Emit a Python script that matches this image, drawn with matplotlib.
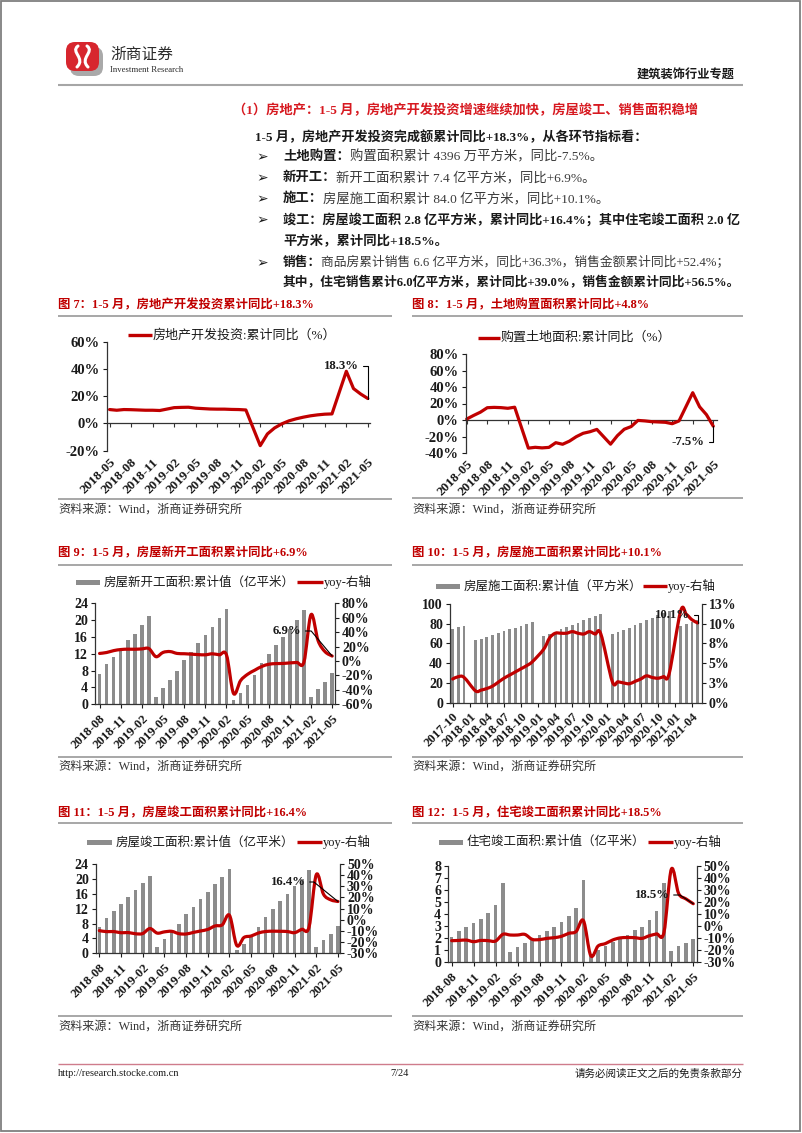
import numpy as np
import pandas as pd
import matplotlib
matplotlib.use('Agg')
import matplotlib.pyplot as plt
from matplotlib.patches import Rectangle, FancyBboxPatch, PathPatch
from matplotlib.path import Path

W, H = 802, 1133
FONTS = ['Liberation Serif', 'Noto Sans CJK SC', 'DejaVu Sans']
plt.rcParams['font.family'] = FONTS
plt.rcParams['axes.unicode_minus'] = False

RED = '#c00000'
HEAD_RED = '#d71920'
BAR_GRAY = '#8c8c8c'
RULE = '#8f8f8f'
INK = '#1a1a1a'


def months(start, end):
    # monthly labels, January skipped (Jan-Feb are reported together)
    return [str(p) for p in pd.period_range(start, end, freq='M') if p.month != 1]


# ---------------- data ----------------
# fig 7: real estate investment, cumulative yoy (%)
inv_months = months('2018-05', '2021-05')
inv_yoy = [10.2, 9.7, 10.2, 10.1, 9.9, 9.7, 9.7, 9.5,
           11.6, 11.8, 11.9, 11.2, 10.9, 10.6, 10.5, 10.5, 10.3, 10.2, 9.9,
           -16.3, -7.7, -3.3, -0.3, 1.9, 3.4, 4.6, 5.6, 6.3, 6.8, 7.0,
           38.3, 25.6, 21.6, 18.3]
inv_ticks = ['2018-05', '2018-08', '2018-11', '2019-02', '2019-05', '2019-08', '2019-11',
             '2020-02', '2020-05', '2020-08', '2020-11', '2021-02', '2021-05']
inv_pct = [-20, 0, 20, 40, 60]

# fig 8: land purchase area, cumulative yoy (%)
land_months = months('2018-05', '2021-05')
land_yoy = [1.2, 5.5, 9.5, 14.9, 15.3, 15.0, 14.2, 15.5,
            -34.1, -33.1, -33.8, -33.2, -27.5, -29.4, -25.6, -20.2, -16.1, -14.2, -11.4,
            -29.3, -19.0, -11.2, -8.0, -0.5, -1.1, -2.0, -2.4, -2.8, -4.5, -1.1,
            33.1, 16.0, 6.5, -7.5]
land_ticks = inv_ticks
land_pct = [-40, -20, 0, 20, 40, 60, 80]

# shared tick labels for the 34-bar charts (every 3rd bar)
bar_ticks = ['2018-08', '2018-11', '2019-02', '2019-05', '2019-08', '2019-11',
             '2020-02', '2020-05', '2020-08', '2020-11', '2021-02', '2021-05']

# fig 9: new starts, cumulative (亿平米) + yoy (%)
new_area = [7.1, 9.5, 11.3, 13.2, 15.2, 16.8, 18.8, 20.9,
            1.8, 3.9, 5.8, 7.9, 10.5, 12.5, 14.5, 16.5, 18.4, 20.5, 22.7,
            1.0, 2.8, 4.7, 7.0, 9.7, 11.9, 14.0, 16.0, 18.0, 20.1, 22.4,
            1.7, 3.6, 5.3, 7.4]
new_yoy = [10.5, 11.8, 14.4, 15.9, 16.4, 16.3, 16.8, 17.2,
           6.0, 11.9, 13.1, 10.5, 10.1, 9.5, 8.9, 8.6, 10.0, 8.6, 8.5,
           -44.9, -27.2, -18.4, -12.8, -7.6, -4.5, -3.6, -3.4, -2.6, -2.0, -1.2,
           64.3, 28.2, 12.8, 6.9]
new_left = [0, 4, 8, 12, 16, 20, 24]
new_right = [-60, -40, -20, 0, 20, 40, 60, 80]

# fig 10: under construction, cumulative + yoy (%)
build_months = months('2017-10', '2021-05')
build_area = [75.0, 76.5, 78.1,
              63.2, 64.6, 66.2, 68.3, 70.6, 72.5, 74.2, 76.1, 78.2, 80.1, 82.2,
              67.2, 69.1, 71.3, 74.2, 76.9, 79.1, 81.2, 83.3, 85.4, 87.5, 89.4,
              69.6, 71.4, 73.4, 75.8, 78.5, 81.1, 83.5, 86.1, 88.5, 90.7, 92.7,
              77.3, 79.9, 82.2, 84.0]
build_yoy = [3.0, 3.3, 3.2,
             1.5, 1.6, 1.8, 2.1, 2.6, 3.1, 3.5, 3.9, 4.3, 4.7, 5.2,
             6.8, 8.2, 8.8, 8.8, 8.8, 9.0, 8.8, 8.7, 9.0, 8.7, 8.7,
             2.7, 2.65, 2.5, 2.4, 2.7, 3.0, 3.4, 3.2, 3.1, 3.3, 3.7,
             11.6, 11.2, 10.5, 10.1]
build_ticks = ['2017-10', '2018-01', '2018-04', '2018-07', '2018-10', '2019-01', '2019-04',
               '2019-07', '2019-10', '2020-01', '2020-04', '2020-07', '2020-10', '2021-01', '2021-04']
build_left = [0, 20, 40, 60, 80, 100]
build_right = [0, 2.5, 5, 7.5, 10, 12.5]
build_right_lbl = ['0%', '3%', '5%', '8%', '10%', '13%']

# fig 11: completions, cumulative + yoy (%)
done_area = [7.1, 9.5, 11.4, 13.2, 15.2, 16.9, 18.9, 20.9,
             1.8, 3.8, 5.7, 7.9, 10.5, 12.5, 14.5, 16.5, 18.5, 20.5, 22.7,
             1.0, 2.6, 4.7, 7.0, 9.7, 12.0, 14.0, 16.0, 18.0, 20.0, 22.4,
             1.7, 3.6, 5.3, 7.4]
done_yoy = [-9.7, -10.6, -10.5, -11.6, -11.4, -12.5, -12.3, -7.8,
            -11.9, -10.8, -10.3, -12.4, -12.7, -11.3, -10.0, -8.6, -5.5, -4.5, 4.0,
            -22.9, -15.8, -14.5, -11.8, -10.5, -10.2, -10.3, -10.5, -11.5, -8.5, -6.5,
            40.4, 22.9, 17.9, 16.4]
done_left = [0, 4, 8, 12, 16, 20, 24]
done_right = [-30, -20, -10, 0, 10, 20, 30, 40, 50]

# fig 12: residential completions, cumulative + yoy (%)
home_area = [2.1, 2.6, 2.95, 3.25, 3.6, 4.1, 4.75, 6.6,
             0.85, 1.3, 1.6, 1.95, 2.3, 2.6, 2.95, 3.3, 3.85, 4.5, 6.8,
             0.6, 1.05, 1.35, 1.65, 1.95, 2.3, 2.65, 2.95, 3.5, 4.25, 6.6,
             0.95, 1.35, 1.6, 1.95]
home_yoy = [-12.1, -11.9, -11.6, -12.9, -11.9, -12.1, -12.4, -6.8,
            -7.4, -7.4, -6.9, -11.0, -11.2, -10.2, -9.6, -8.5, -6.0, -4.5, 4.5,
            -24.5, -16.5, -14.5, -11.5, -9.8, -9.5, -9.6, -10.2, -8.0, -6.5, -5.2,
            47.0, 27.0, 22.5, 18.5]
home_left = [0, 1, 2, 3, 4, 5, 6, 7, 8]
home_right = [-30, -20, -10, 0, 10, 20, 30, 40, 50]

titles = ['图 7：1-5 月，房地产开发投资累计同比+18.3%',
          '图 8：1-5 月，土地购置面积累计同比+4.8%',
          '图 9：1-5 月，房屋新开工面积累计同比+6.9%',
          '图 10：1-5 月，房屋施工面积累计同比+10.1%',
          '图 11：1-5 月，房屋竣工面积累计同比+16.4%',
          '图 12：1-5 月，住宅竣工面积累计同比+18.5%']
source = '资料来源：Wind，浙商证券研究所'


# ---------------- helpers ----------------
def month_pos(labels, start):
    p0 = pd.Period(start, freq='M')
    return np.array([(pd.Period(m, freq='M') - p0).n for m in labels])


def smooth_path(x, y):
    # Catmull-Rom through the points, like a smoothed office-chart line
    pts = np.column_stack([x, y]).astype(float)
    n = len(pts)
    verts, codes = [pts[0]], [Path.MOVETO]
    for i in range(n - 1):
        p0 = pts[i - 1] if i > 0 else pts[i]
        p1, p2 = pts[i], pts[i + 1]
        p3 = pts[i + 2] if i + 2 < n else pts[i + 1]
        verts += [p1 + (p2 - p0) / 6, p2 - (p3 - p1) / 6, p2]
        codes += [Path.CURVE4] * 3
    return Path(verts, codes)


fig = plt.figure(figsize=(W / 100, H / 100), dpi=100)
page = fig.add_axes([0, 0, 1, 1])
page.set_xlim(0, W)
page.set_ylim(H, 0)
page.axis('off')
renderer = fig.canvas.get_renderer()


def make_axes(x0, ytop, x1, ybot):
    ax = fig.add_axes([x0 / W, 1 - ybot / H, (x1 - x0) / W, (ybot - ytop) / H])
    ax.set_facecolor('none')
    return ax


def hline(x0, x1, y, color=RULE, lw=1.0):
    page.plot([x0, x1], [y, y], color=color, lw=lw, solid_capstyle='butt')


def runs(x, y, parts, size, right=None):
    # draw text pieces one after another; squeeze the line to end at `right`
    x0 = x
    drawn = []
    for txt, bold, color in parts:
        t = page.text(x, y, txt, fontsize=size, fontweight='bold' if bold else 'normal',
                      color=color, va='center', ha='left')
        drawn.append(t)
        x += t.get_window_extent(renderer).width
    if right is not None and abs(x - right) > 1:
        for t in drawn:
            t.remove()
        return runs(x0, y, parts, size * (right - x0) / (x - x0))
    return x


def frame(x0, x1, ytitle, yrule, title, ysrc_rule, ysrc):
    page.text(x0, ytitle, title, fontsize=8.9, fontweight='bold', color=RED, va='center')
    hline(x0, x1, yrule, lw=1.1)
    hline(x0, x1, ysrc_rule, lw=1.1)
    page.text(x0, ysrc, source, fontsize=8.7, color='#333333', va='center')


def legend_line(x0, x1, y, label, size=9.4):
    page.plot([x0, x1], [y, y], color=RED, lw=2.4, solid_capstyle='butt')
    page.text(x1 + 1, y, label, fontsize=size, color=INK, va='center')


def legend_bar(x0, x1, y, label):
    page.add_patch(Rectangle((x0, y - 2.5), x1 - x0, 5, color=BAR_GRAY, lw=0))
    page.text(x1 + 4, y, label, fontsize=9, color=INK, va='center')


def pct(vals):
    return [f'{v:g}%' for v in vals]


def style_left(ax, ticks, labels, size):
    for s in ['top', 'right']:
        ax.spines[s].set_visible(False)
    ax.spines['left'].set_color('#333333')
    ax.spines['left'].set_linewidth(0.9)
    ax.set_ylim(ticks[0], ticks[-1])
    ax.set_yticks(ticks, labels=labels, fontsize=size, fontweight='bold')
    ax.tick_params(axis='y', length=3, width=0.8, pad=2, colors=INK)


def note(ax, text, xy, txt_px, angle_b):
    ax.annotate(text, xy=xy, xytext=(txt_px[0], H - txt_px[1]), textcoords='figure pixels',
                ha='center', va='center', fontsize=9.2, fontweight='bold', color=INK,
                annotation_clip=False,
                arrowprops=dict(arrowstyle='-', color='black', lw=0.8, relpos=(1, 0.5),
                                shrinkA=1, shrinkB=0,
                                connectionstyle=f'angle,angleA=0,angleB={angle_b},rad=0'))


def line_chart(box, x, y, xlim, ticks, tick_labels, zero_frac, note_args):
    ax = make_axes(*box)
    style_left(ax, ticks, pct(ticks), 10.5)
    ax.spines['bottom'].set_visible(False)
    ax.plot(x, y, color=RED, lw=2.3, solid_joinstyle='round', solid_capstyle='round', clip_on=False)
    ax.set_xlim(*xlim)
    ax.set_xticks(tick_labels[0], labels=tick_labels[1], rotation=45, ha='right',
                  rotation_mode='anchor', fontsize=9.6, fontweight='bold')
    ax.tick_params(axis='x', length=0, pad=4, colors=INK)
    zero = ax.secondary_xaxis(zero_frac)
    zero.set_xticks(tick_labels[0], labels=[])
    zero.tick_params(length=3, width=0.8, colors='#333333')
    zero.spines['bottom'].set_color('#333333')
    zero.spines['bottom'].set_linewidth(0.9)
    note(ax, *note_args)
    return ax


def bar_line_chart(box, x, bars, yoy, xlim, bar_w, left, right, right_lbl, tick_pos, tick_lbl, note_args):
    ax = make_axes(*box)
    style_left(ax, left, [f'{v:g}' for v in left], 10)
    ax.spines['bottom'].set_color('#333333')
    ax.spines['bottom'].set_linewidth(0.9)
    ax.bar(x, bars, width=bar_w, color=BAR_GRAY, lw=0)
    ax.set_xlim(*xlim)
    ax.set_xticks(tick_pos, labels=tick_lbl, rotation=45, ha='right',
                  rotation_mode='anchor', fontsize=9.2, fontweight='bold')
    ax.tick_params(axis='x', length=3, width=0.8, pad=3, colors=INK)
    ax2 = ax.twinx()
    ax2.set_facecolor('none')
    for s in ['top', 'left', 'bottom']:
        ax2.spines[s].set_visible(False)
    ax2.spines['right'].set_color('#333333')
    ax2.spines['right'].set_linewidth(0.9)
    ax2.set_ylim(right[0], right[-1])
    ax2.set_yticks(right, labels=right_lbl, fontsize=10, fontweight='bold')
    ax2.tick_params(axis='y', length=3, width=0.8, pad=2, colors=INK)
    ax2.add_patch(PathPatch(smooth_path(x, yoy), fill=False, ec=RED, lw=2.3,
                            joinstyle='round', capstyle='round', clip_on=False))
    note(ax2, *note_args)
    return ax, ax2


# ---------------- page furniture ----------------
page.add_patch(Rectangle((1, 1), 799, 1130, fill=False, ec='#7f7f7f', lw=1.3))

# logo
page.add_patch(FancyBboxPatch((70, 47), 33, 29, boxstyle='round,pad=0,rounding_size=9',
                              fc='#a9a9a9', ec='none'))
page.add_patch(FancyBboxPatch((66, 42), 33, 29, boxstyle='round,pad=0,rounding_size=9',
                              fc='#d7262e', ec='none'))
logo_l = Path([(78, 46), (70, 52), (86, 58), (77, 67)], [Path.MOVETO, Path.CURVE4, Path.CURVE4, Path.CURVE4])
logo_r = Path([(87, 46), (95, 52), (79, 58), (88, 67)], [Path.MOVETO, Path.CURVE4, Path.CURVE4, Path.CURVE4])
for p in (logo_l, logo_r):
    page.add_patch(PathPatch(p, fill=False, ec='white', lw=2.2, capstyle='round'))
page.text(110, 55, '浙商证券', fontsize=11.3, color='#2b2b2b', va='center')
page.text(110, 70.5, 'Investment Research', fontsize=6.3, color='#2b2b2b', va='center')
page.text(735, 75, '建筑装饰行业专题', fontsize=8.8, fontweight='bold', color=INK, va='center', ha='right')
hline(58, 743, 85, color='#a6a6a6', lw=1.5)

# section heading and body text
runs(233, 110, [('（1）房地产：1-5 月，房地产开发投资增速继续加快，房屋竣工、销售面积稳增', True, HEAD_RED)],
     9.7, right=700)
BODY = 9.6
GREY_TXT = '#3a3a3a'
runs(255, 137, [('1-5 月，房地产开发投资完成额累计同比+18.3%，从各环节指标看：', True, INK)], BODY, right=648)
body = [
    (157, True, None, [('土地购置：', True, INK), ('购置面积累计 4396 万平方米，同比-7.5%。', False, GREY_TXT)]),
    (178, True, None, [('新开工：', True, INK), ('新开工面积累计 7.4 亿平方米，同比+6.9%。', False, GREY_TXT)]),
    (199, True, None, [('施工：', True, INK), ('房屋施工面积累计 84.0 亿平方米，同比+10.1%。', False, GREY_TXT)]),
    (220, True, 743, [('竣工：房屋竣工面积 2.8 亿平方米，累计同比+16.4%；其中住宅竣工面积 2.0 亿', True, INK)]),
    (242, False, None, [('平方米，累计同比+18.5%。', True, INK)]),
    (263, True, 732, [('销售：', True, INK), ('商品房累计销售 6.6 亿平方米，同比+36.3%，销售金额累计同比+52.4%；', False, GREY_TXT)]),
    (283, False, 743, [('其中，住宅销售累计6.0亿平方米，累计同比+39.0%，销售金额累计同比+56.5%。', True, INK)]),
]
for y, bullet, right, parts in body:
    if bullet:
        page.text(256, y, '➢', fontsize=10, color=INK, va='center', family=['DejaVu Sans'])
    runs(283, y, parts, BODY, right=right)

# footer
hline(58, 743, 1064, color='#cf7c8c', lw=1.0)
page.text(58, 1074, 'http://research.stocke.com.cn', fontsize=7.5, color=INK, va='center')
page.text(400, 1074, '7/24', fontsize=7.5, color=INK, va='center', ha='center')
page.text(743, 1074, '请务必阅读正文之后的免责条款部分', fontsize=7.6, color=INK, va='center', ha='right')

# ---------------- charts ----------------
# fig 7
frame(58, 392, 305, 316, titles[0], 499, 510)
legend_line(128, 152, 335, '房地产开发投资:累计同比（%）')
x7 = month_pos(inv_months, '2018-05')
line_chart((106.7, 341.7, 370, 450.7), x7, inv_yoy, (-0.4, 36.3), inv_pct,
           (month_pos(inv_ticks, '2018-05'), inv_ticks), 0.25,
           ('18.3%', (x7[-1], inv_yoy[-1]), (341, 366), 90))

# fig 8
frame(412, 743, 305, 316, titles[1], 498, 510)
legend_line(478, 500, 338, '购置土地面积:累计同比（%）')
x8 = month_pos(land_months, '2018-05')
line_chart((465.7, 354, 716.7, 453), x8, land_yoy, (-0.15, 36.5), land_pct,
           (month_pos(land_ticks, '2018-05'), land_ticks), 40 / 120,
           ('-7.5%', (x8[-1], land_yoy[-1]), (688, 442), 90))

# fig 9
frame(58, 392, 553, 565, titles[2], 757, 767)
legend_bar(76, 100, 582, '房屋新开工面积:累计值（亿平米）')
legend_line(297, 323, 582, 'yoy-右轴', size=9)
x9 = np.arange(len(new_area))
bar_line_chart((95, 603.3, 335, 704.3), x9, new_area, new_yoy, (-0.65, 33.4), 0.5,
               new_left, new_right, pct(new_right), x9[::3], bar_ticks,
               ('6.9%', (x9[-1], new_yoy[-1]), (287, 631), 130))

# fig 10
frame(412, 743, 553, 565, titles[3], 757, 767)
legend_bar(436, 460, 586, '房屋施工面积:累计值（平方米）')
legend_line(643, 667, 586, 'yoy-右轴', size=9)
x10 = month_pos(build_months, '2017-10')
bar_line_chart((450, 604, 701.7, 702.7), x10, build_area, build_yoy, (-0.47, 43.7), 0.5,
               build_left, build_right, build_right_lbl,
               month_pos(build_ticks, '2017-10'), build_ticks,
               ('10.1%', (x10[-1], build_yoy[-1]), (672, 615), 90))

# fig 11
frame(58, 392, 813, 823, titles[4], 1016, 1027)
legend_bar(87, 112, 842, '房屋竣工面积:累计值（亿平米）')
legend_line(297, 322, 842, 'yoy-右轴', size=9)
x11 = np.arange(len(done_area))
bar_line_chart((95.7, 864, 340, 953.3), x11, done_area, done_yoy, (-0.5, 33.28), 0.5,
               done_left, done_right, pct(done_right), x11[::3], bar_ticks,
               ('16.4%', (x11[-1], done_yoy[-1]), (288, 882), 141))

# fig 12
frame(412, 743, 813, 823, titles[5], 1016, 1027)
legend_bar(439, 463, 842, '住宅竣工面积:累计值（亿平米）')
legend_line(648, 673, 842, 'yoy-右轴', size=9)
x12 = np.arange(len(home_area))
bar_line_chart((448, 865.7, 696.7, 962.3), x12, home_area, home_yoy, (-0.5, 33.47), 0.5,
               home_left, home_right, pct(home_right), x12[::3], bar_ticks,
               ('18.5%', (x12[-1], home_yoy[-1]), (652, 895), 147))

fig.savefig('out.png', dpi=100)
